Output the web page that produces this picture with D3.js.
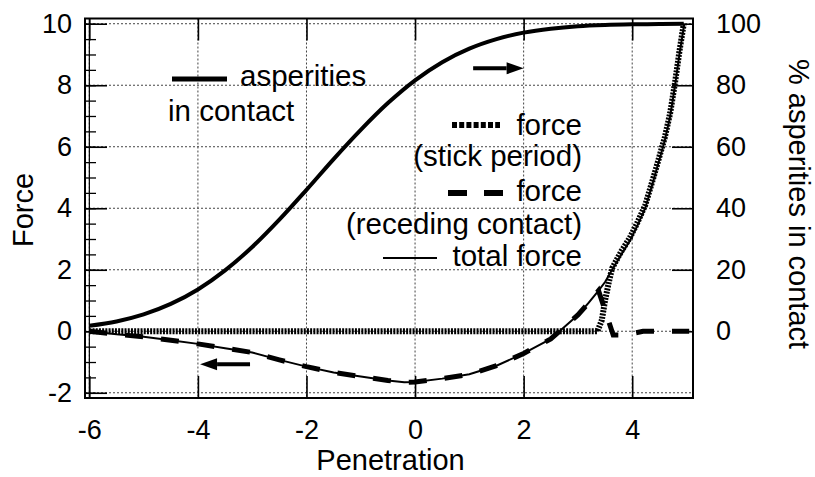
<!DOCTYPE html>
<head>
<meta charset="utf-8">
<style>
body { margin: 0; background: #fff; }
svg text { font-family: "Liberation Sans", Arial, sans-serif; fill: #000; }
.tick text { font-size: 27px; }
.axis path.domain { display: none; }
.axis line { stroke: #000; stroke-width: 1.6; }
.minor line { stroke-width: 1.3; }
.grid line { stroke: #444; stroke-width: 1; stroke-dasharray: 2,2; }
</style>
</head>
<body>
<script src="https://cdn.jsdelivr.net/npm/d3@7"></script>
<script>

var width = 815, height = 477;
var margin = {left: 85, right: 122, top: 18.5, bottom: 79};

// tick values
var xTicks = [-6, -4, -2, 0, 2, 4];
var yTicks = [-2, 0, 2, 4, 6, 8, 10];
var yMinor = [-2, -1.5, -1, -0.5, 0, 0.5, 1, 1.5, 2, 2.5, 3, 3.5, 4, 4.5, 5, 5.5, 6, 6.5, 7, 7.5, 8, 8.5, 9, 9.5, 10];
var y2Ticks = [0, 20, 40, 60, 80, 100];

// % asperities in contact (right axis)
var aspX = [-6, -5.5, -5, -4.5, -4, -3.5, -3, -2.5, -2, -1.5, -1, -0.5, 0, 0.5, 1, 1.5, 2, 2.5, 3, 3.5, 4, 4.5, 4.95];
var aspY = [1.8, 3.2, 5.5, 8.9, 13.6, 19.8, 27.4, 36.3, 46, 56, 65.5, 74.2, 81.6, 87.5, 91.9, 95, 97.1, 98.4, 99.2, 99.6, 99.8, 99.9, 100];

// force during receding contact
var recX = [-6, -5.5, -5, -4.5, -4, -3.5, -3, -2.5, -2, -1.5, -1, -0.5, -0.2, 0, 0.5, 1, 1.5, 2, 2.5, 3, 3.2, 3.38, 3.65, 3.8, 3.93, 4.2, 5.05];
var recY = [0, -0.1, -0.18, -0.29, -0.41, -0.55, -0.69, -0.93, -1.15, -1.34, -1.47, -1.6, -1.66, -1.65, -1.54, -1.4, -1.12, -0.72, -0.25, 0.53, 0.93, 1.32, -0.12, -0.12, -0.1, 0, 0];

// force during stick period
var stickX = [-6, 3.36, 3.44, 3.5, 3.57, 3.63, 3.8, 3.96, 4.1, 4.24, 4.4, 4.6, 4.7, 4.79, 4.87, 4.95];
var stickY = [0, 0, 0.36, 1.0, 1.6, 2.05, 2.6, 3.05, 3.55, 4.1, 5.05, 6.3, 7.1, 8.1, 9.1, 10];

// total force
var totX = [-6, -5.5, -5, -4.5, -4, -3.5, -3, -2.5, -2, -1.5, -1, -0.5, -0.2, 0, 0.5, 1, 1.5, 2, 2.5, 3, 3.2, 3.38, 3.5, 3.63, 3.8, 3.96, 4.1, 4.24, 4.4, 4.6, 4.7, 4.79, 4.87, 4.96];
var totY = [0, -0.1, -0.18, -0.29, -0.41, -0.55, -0.69, -0.93, -1.15, -1.34, -1.47, -1.6, -1.66, -1.65, -1.54, -1.4, -1.12, -0.72, -0.25, 0.53, 0.93, 1.32, 1.6, 2.0, 2.5, 2.95, 3.45, 4.0, 4.95, 6.2, 7.0, 8.0, 9.0, 10];

var x = d3.scaleLinear().domain([-6.08, 5.12]).range([margin.left, width - margin.right]);
var y = d3.scaleLinear().domain([-2.17, 10.17]).range([height - margin.bottom, margin.top]);
var y2 = d3.scaleLinear().domain([-21.7, 101.7]).range([height - margin.bottom, margin.top]);

var svg = d3.select("body").append("svg")
  .attr("width", width)
  .attr("height", height);

var x0 = x.range()[0], x1 = x.range()[1], yb = y.range()[0], yt = y.range()[1];
var fmt = function(d){ return String(d); };   // plain hyphen, not unicode minus

// grid
var grid = svg.append("g").attr("class", "grid");
grid.selectAll(".gx").data(xTicks).enter().append("line")
  .attr("x1", function(d){ return x(d); }).attr("x2", function(d){ return x(d); })
  .attr("y1", yt).attr("y2", yb);
grid.selectAll(".gy").data(yTicks).enter().append("line")
  .attr("x1", x0).attr("x2", x1)
  .attr("y1", function(d){ return y(d); }).attr("y2", function(d){ return y(d); });
svg.append("line").attr("x1", x(-6)).attr("x2", x(-6)).attr("y1", yt).attr("y2", yb)
  .attr("stroke", "#000").attr("stroke-width", 1.2);

// axes
svg.append("g").attr("class", "axis").attr("transform", "translate(0," + yb + ")")
  .call(d3.axisBottom(x).tickValues(xTicks).tickSize(-22).tickPadding(22).tickFormat(fmt));
svg.append("g").attr("class", "axis").attr("transform", "translate(0," + yt + ")")
  .call(d3.axisTop(x).tickValues(xTicks).tickSize(-22).tickFormat(""));
svg.append("g").attr("class", "axis").attr("transform", "translate(" + x0 + ",0)")
  .call(d3.axisLeft(y).tickValues(yTicks).tickSize(-22).tickPadding(13).tickFormat(fmt));
svg.append("g").attr("class", "axis minor").attr("transform", "translate(" + x0 + ",0)")
  .call(d3.axisLeft(y).tickValues(yMinor).tickSize(-11).tickFormat(""));
svg.append("g").attr("class", "axis").attr("transform", "translate(" + x1 + ",0)")
  .call(d3.axisRight(y2).tickValues(y2Ticks).tickSize(-21).tickPadding(23).tickFormat(fmt));
svg.selectAll(".tick text").style("font-size", "27px");

// frame
svg.append("rect").attr("x", x0).attr("y", yt).attr("width", x1 - x0).attr("height", yb - yt)
  .attr("fill", "none").attr("stroke", "#000").attr("stroke-width", 2);

// curves
function pts(xs, ys) { return xs.map(function(v, i){ return [v, ys[i]]; }); }
var lineR = d3.line().x(function(d){ return x(d[0]); }).y(function(d){ return y2(d[1]); }).curve(d3.curveMonotoneX);
var lineLin = d3.line().x(function(d){ return x(d[0]); }).y(function(d){ return y(d[1]); });

svg.append("path").attr("d", lineLin(pts(stickX, stickY)))
  .attr("fill", "none").attr("stroke", "#000").attr("stroke-width", 6).attr("stroke-dasharray", "2,1.2");
svg.append("path").attr("d", lineLin(pts(recX, recY)))
  .attr("fill", "none").attr("stroke", "#000").attr("stroke-width", 5).attr("stroke-dasharray", "18,18");
svg.append("path").attr("d", lineLin(pts(totX, totY)))
  .attr("fill", "none").attr("stroke", "#000").attr("stroke-width", 2);
svg.append("path").attr("d", lineR(pts(aspX, aspY)))
  .attr("fill", "none").attr("stroke", "#000").attr("stroke-width", 4);

// arrows pointing to the axis of each curve
function arrow(xa, xb, yv) {
  var ax = x(xa), bx = x(xb), yy = y(yv);
  var dir = bx > ax ? 1 : -1;
  var hx = bx - dir * 17;
  svg.append("line").attr("x1", ax).attr("x2", hx).attr("y1", yy).attr("y2", yy)
    .attr("stroke", "#000").attr("stroke-width", 4);
  svg.append("path").attr("d", "M" + bx + "," + yy + "L" + hx + "," + (yy - 6) + "L" + hx + "," + (yy + 6) + "Z")
    .attr("fill", "#000");
}
arrow(1.07, 2.0, 8.55);
arrow(-3.04, -3.96, -1.07);

// axis titles
svg.append("text").attr("x", width / 2 - 17).attr("y", 470).attr("text-anchor", "middle")
  .style("font-size", "29px").text("Penetration");
svg.append("text").attr("transform", "translate(33,210) rotate(-90)").attr("text-anchor", "middle")
  .style("font-size", "29px").text("Force");
svg.append("text").attr("transform", "translate(789,204) rotate(90)").attr("text-anchor", "middle")
  .style("font-size", "29px").text("% asperities in contact");

// legend
var lg = svg.append("g").style("font-size", "29.5px");
lg.append("line").attr("x1", 172).attr("x2", 227).attr("y1", 79).attr("y2", 79)
  .attr("stroke", "#000").attr("stroke-width", 5);
lg.append("text").attr("x", 240).attr("y", 86).text("asperities");
lg.append("text").attr("x", 168).attr("y", 121).text("in contact");

lg.append("line").attr("x1", 452).attr("x2", 500).attr("y1", 125).attr("y2", 125)
  .attr("stroke", "#000").attr("stroke-width", 6).attr("stroke-dasharray", "5,2.2");
lg.append("text").attr("x", 582).attr("y", 135).attr("text-anchor", "end").text("force");
lg.append("text").attr("x", 582).attr("y", 166).attr("text-anchor", "end").text("(stick period)");

lg.append("line").attr("x1", 448).attr("x2", 503).attr("y1", 193).attr("y2", 193)
  .attr("stroke", "#000").attr("stroke-width", 6).attr("stroke-dasharray", "19,17");
lg.append("text").attr("x", 582).attr("y", 201).attr("text-anchor", "end").text("force");
lg.append("text").attr("x", 582).attr("y", 234).attr("text-anchor", "end").text("(receding contact)");

lg.append("line").attr("x1", 383).attr("x2", 437).attr("y1", 258).attr("y2", 258)
  .attr("stroke", "#000").attr("stroke-width", 2);
lg.append("text").attr("x", 582).attr("y", 266).attr("text-anchor", "end").text("total force");

</script>
</body>
